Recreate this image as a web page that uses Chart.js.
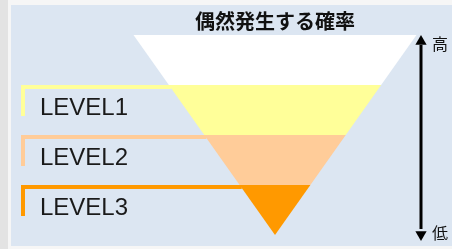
<!DOCTYPE html>
<html><head><meta charset="utf-8">
<script src="https://cdn.jsdelivr.net/npm/chart.js@4/dist/chart.umd.min.js"></script>
<style>html,body{margin:0;padding:0;background:#f4f4f4;overflow:hidden}canvas{display:block}</style>
</head><body>
<canvas id="c" width="452" height="249"></canvas>
<script>
// ---- data ----
const chartTitle = '偶然発生する確率';
const levels = ['LEVEL1', 'LEVEL2', 'LEVEL3'];
const bandEdges = [4, 3, 2, 1, 0];            // funnel band boundaries, top (high) to apex (low)
const bandColors = ['#ffffff', '#ffff99', '#ffcc99', '#ff9900'];
const levelColors = ['#ffff99', '#ffcc99', '#ff9900'];
const axisLabels = ['高', '低'];

// ---- layout (scale ranges) ----
const UNIT_Y = 50;      // px per band
const UNIT_X = 35.375;  // px per x unit
const APEX_PX = { x: 275, y: 235 };
const W = 452, H = 249;
const X_MIN = -APEX_PX.x / UNIT_X, X_MAX = (W - APEX_PX.x) / UNIT_X;
const Y_MAX = APEX_PX.y / UNIT_Y, Y_MIN = (APEX_PX.y - H) / UNIT_Y;
const px2y = p => p / UNIT_Y, px2x = p => p / UNIT_X;

const BRACKET_X = -px2x(252);
const ARROW_X = px2x(146);

// band polygons (trapezoids of the inverted triangle)
const bandDatasets = bandColors.map((c, i) => {
  const t = bandEdges[i], b = bandEdges[i + 1];
  return {
    label: 'band' + i, isBand: true, fillColor: c,
    data: [{x: -t, y: t}, {x: t, y: t}, {x: b, y: b}, {x: -b, y: b}],
    pointRadius: 0, showLine: false, borderWidth: 0
  };
});

// level brackets
const bracketDatasets = levels.map((l, i) => {
  const top = bandEdges[i + 1] - px2y(2);
  return {
    label: l,
    data: [{x: BRACKET_X, y: top - px2y(29)}, {x: BRACKET_X, y: top}, {x: -top + px2y(1), y: top}],
    showLine: true, borderColor: levelColors[i], borderWidth: 4,
    borderJoinStyle: 'miter', borderCapStyle: 'butt', pointRadius: 0, fill: false, tension: 0
  };
});

const hi = bandEdges[0], lo = bandEdges[bandEdges.length - 1];
const arrowShaft = {
  label: 'shaft',
  data: [{x: ARROW_X, y: hi - px2y(10)}, {x: ARROW_X, y: lo + px2y(6)}],
  showLine: true, borderColor: '#000', borderWidth: 3, pointRadius: 0, borderCapStyle: 'butt'
};
const arrowHeads = {
  label: 'heads',
  data: [{x: ARROW_X, y: hi - px2y(6.5)}, {x: ARROW_X, y: lo + px2y(0.5)}],
  showLine: false, pointStyle: 'triangle', pointRadius: 6.5, pointRotation: [0, 180],
  pointBackgroundColor: '#000', pointBorderWidth: 0, pointBorderColor: '#000'
};

const bgPlugin = {
  id: 'bg',
  beforeDraw(chart) {
    const ctx = chart.ctx;
    ctx.save();
    ctx.fillStyle = '#f6f6f6'; ctx.fillRect(0, 0, W, H);
    ctx.fillStyle = '#e3e3e3'; ctx.fillRect(0, 0, 8, H);
    ctx.fillStyle = '#dce6f2'; ctx.fillRect(11, 5, W - 11, 241);
    ctx.restore();
  }
};

const bandPlugin = {
  id: 'bands',
  beforeDatasetsDraw(chart) {
    const ctx = chart.ctx;
    ctx.save();
    chart.data.datasets.forEach((ds, i) => {
      if (!ds.isBand) return;
      const pts = chart.getDatasetMeta(i).data;
      ctx.beginPath();
      pts.forEach((p, k) => k ? ctx.lineTo(p.x, p.y) : ctx.moveTo(p.x, p.y));
      ctx.closePath();
      ctx.fillStyle = ds.fillColor;
      ctx.fill();
    });
    ctx.restore();
  }
};

const textPlugin = {
  id: 'texts',
  afterDatasetsDraw(chart) {
    const ctx = chart.ctx, xs = chart.scales.x, ys = chart.scales.y;
    ctx.save();
    ctx.fillStyle = '#111';
    ctx.font = 'bold 20px "Noto Sans CJK JP"';
    ctx.textAlign = 'center'; ctx.textBaseline = 'middle';
    ctx.fillText(chartTitle, xs.getPixelForValue(0), ys.getPixelForValue(hi) - 14);

    ctx.font = '24px "Liberation Sans"';
    ctx.textAlign = 'left'; ctx.textBaseline = 'alphabetic';
    ctx.fillStyle = '#1a1a1a';
    levels.forEach((l, i) => {
      ctx.fillText(l, xs.getPixelForValue(BRACKET_X) + 17, ys.getPixelForValue(bandEdges[i + 1]) + 29.5);
    });

    ctx.font = '16px "Noto Sans CJK JP"';
    ctx.textBaseline = 'middle';
    ctx.fillStyle = '#111';
    const ax = xs.getPixelForValue(ARROW_X) + 11;
    ctx.fillText(axisLabels[0], ax, ys.getPixelForValue(hi) + 9);
    ctx.fillText(axisLabels[1], ax, ys.getPixelForValue(lo) - 2);
    ctx.restore();
  }
};

new Chart(document.getElementById('c'), {
  type: 'scatter',
  data: { datasets: [...bracketDatasets, arrowShaft, arrowHeads, ...bandDatasets] },
  options: {
    responsive: false, animation: false, devicePixelRatio: 1,
    layout: { padding: 0, autoPadding: false },
    plugins: { legend: { display: false }, tooltip: { enabled: false }, title: { display: false } },
    scales: {
      x: { type: 'linear', display: false, min: X_MIN, max: X_MAX },
      y: { type: 'linear', display: false, min: Y_MIN, max: Y_MAX }
    },
    events: []
  },
  plugins: [bgPlugin, bandPlugin, textPlugin]
});
</script>
</body></html>
